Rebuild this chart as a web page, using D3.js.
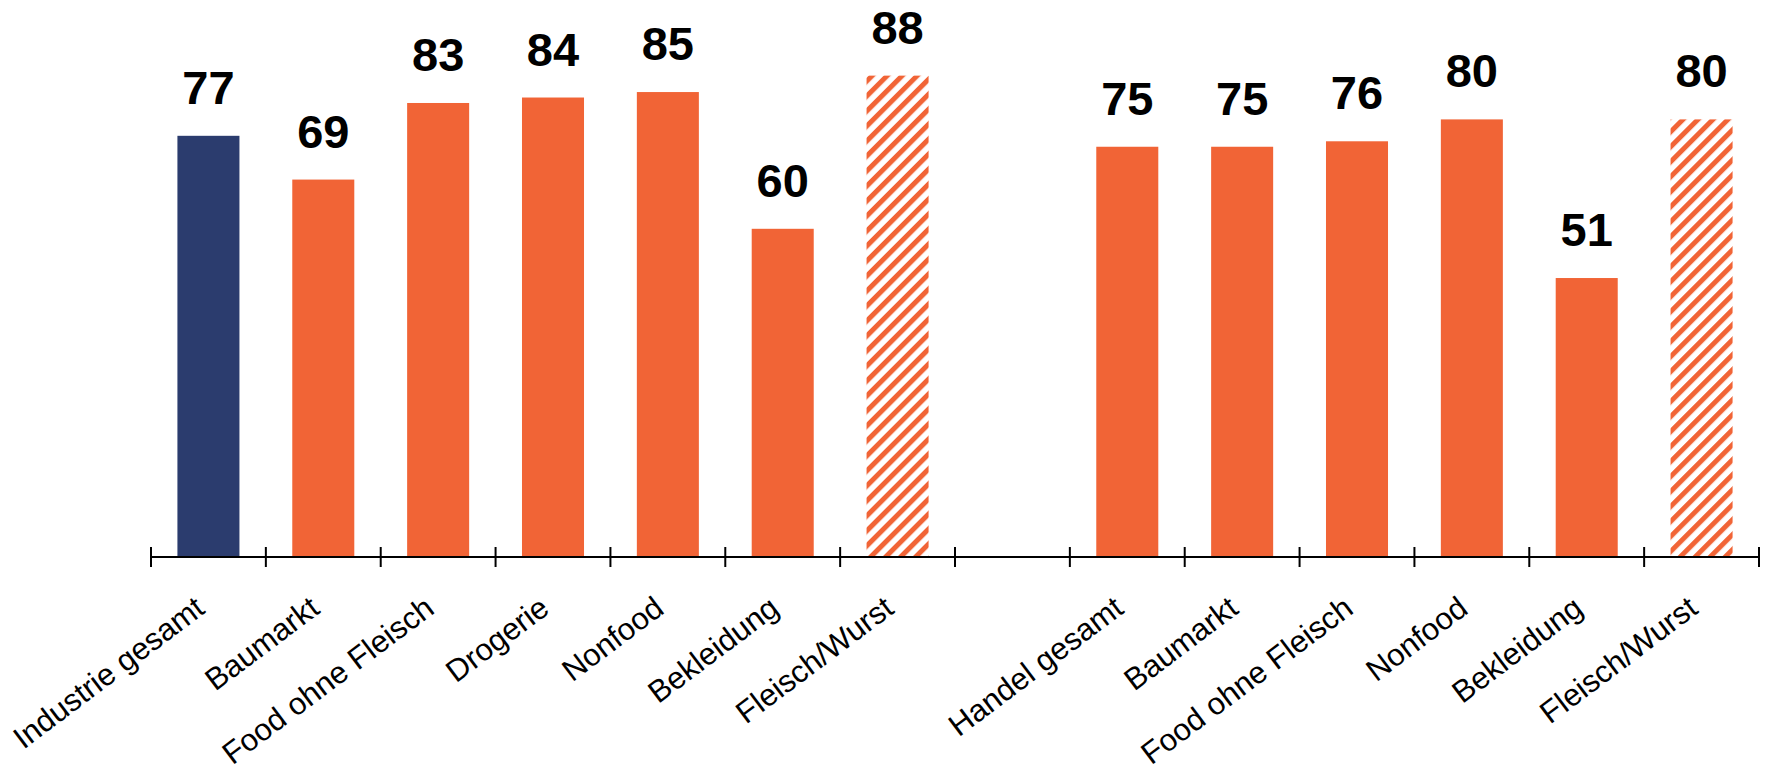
<!DOCTYPE html>
<html>
<head>
<meta charset="utf-8">
<script src="https://cdn.jsdelivr.net/npm/d3@7/dist/d3.min.js"></script>
<style>
  html, body { margin: 0; padding: 0; background: #ffffff; }
  svg { display: block; }
</style>
</head>
<body>
<svg id="chart" width="1766" height="771"></svg>
<script>
// ---- data ----
const categories = ["Industrie gesamt", "Baumarkt", "Food ohne Fleisch", "Drogerie", "Nonfood", "Bekleidung", "Fleisch/Wurst",
                    "",
                    "Handel gesamt", "Baumarkt", "Food ohne Fleisch", "Nonfood", "Bekleidung", "Fleisch/Wurst"];
const values = [77, 69, 83, 84, 85, 60, 88, null, 75, 75, 76, 80, 51, 80];
const barKinds = ["total", "solid", "solid", "solid", "solid", "solid", "hatched", null,
                  "solid", "solid", "solid", "solid", "solid", "hatched"];

// ---- styling ----
const NAVY = "#2b3c6e";
const ORANGE = "#f16436";

const svg = d3.select("#chart");
const axisY = 557;

const x = d3.scaleBand()
  .domain(d3.range(categories.length))
  .range([151, 1759])
  .padding(0);

const y = d3.scaleLinear().domain([0, 100]).range([axisY, 10]);

// hatch pattern
const defs = svg.append("defs");
const pat = defs.append("pattern")
  .attr("id", "hatch")
  .attr("patternUnits", "userSpaceOnUse")
  .attr("width", 10.6)
  .attr("height", 10.6)
  .attr("patternTransform", "rotate(45)");
pat.append("rect").attr("width", 10.6).attr("height", 10.6).attr("fill", "#ffffff");
pat.append("rect").attr("x", 0).attr("width", 5).attr("height", 10.6).attr("fill", ORANGE);

const barW = x.bandwidth() * 0.54;
const data = categories.map((c, i) => ({ i, c, v: values[i], kind: barKinds[i] }));
const barsData = data.filter(d => d.v != null);

// bars
svg.append("g").selectAll("rect")
  .data(barsData)
  .join("rect")
  .attr("x", d => x(d.i) + x.bandwidth() / 2 - barW / 2)
  .attr("y", d => y(d.v))
  .attr("width", barW)
  .attr("height", d => y(0) - y(d.v))
  .attr("fill", d => d.kind === "total" ? NAVY : d.kind === "hatched" ? "url(#hatch)" : ORANGE);

// value labels
svg.append("g").selectAll("text")
  .data(barsData)
  .join("text")
  .attr("x", d => x(d.i) + x.bandwidth() / 2)
  .attr("y", d => y(d.v) - 32)
  .attr("text-anchor", "middle")
  .attr("font-family", "'Liberation Sans', Arial, sans-serif")
  .attr("font-weight", "bold")
  .attr("font-size", 47)
  .attr("fill", "#000")
  .text(d => d.v);

// axis line with boundary ticks
const axisG = svg.append("g");
const [r0, r1] = x.range();
axisG.append("line")
  .attr("x1", r0).attr("x2", r1)
  .attr("y1", axisY).attr("y2", axisY)
  .attr("stroke", "#000").attr("stroke-width", 2);
const bounds = d3.range(categories.length + 1).map(i => i < categories.length ? x(i) : r1);
axisG.selectAll("line.tick")
  .data(bounds)
  .join("line")
  .attr("class", "tick")
  .attr("x1", d => d).attr("x2", d => d)
  .attr("y1", axisY - 10).attr("y2", axisY + 10)
  .attr("stroke", "#000").attr("stroke-width", 2);

// category labels
svg.append("g").selectAll("text")
  .data(data.filter(d => d.c !== ""))
  .join("text")
  .attr("transform", d => `translate(${x(d.i) + x.bandwidth() / 2 - 2},${axisY + 55}) rotate(-37)`)
  .attr("text-anchor", "end")
  .attr("font-family", "'Liberation Sans', Arial, sans-serif")
  .attr("font-size", 31)
  .attr("fill", "#000")
  .text(d => d.c);
</script>
</body>
</html>
